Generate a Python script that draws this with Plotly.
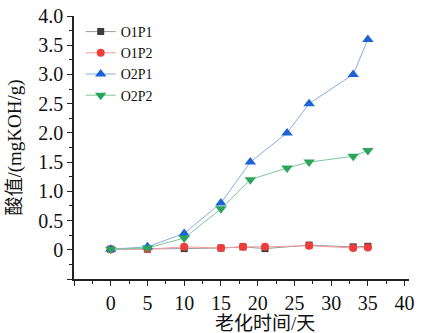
import plotly.graph_objects as go

# Aging days for each oil/paper group
days_o1 = [0, 5, 10, 15, 18, 21, 27, 33, 35]
days_o2 = [0, 5, 10, 15, 19, 24, 27, 33, 35]

# Acid value (mgKOH/g)
o1p1 = [0.01, 0.01, 0.02, 0.03, 0.05, 0.02, 0.08, 0.05, 0.06]
o1p2 = [0.01, 0.01, 0.05, 0.03, 0.05, 0.05, 0.07, 0.03, 0.04]
o2p1 = [0.01, 0.05, 0.28, 0.80, 1.50, 2.00, 2.50, 3.00, 3.60]
o2p2 = [0.01, 0.03, 0.20, 0.70, 1.20, 1.40, 1.50, 1.60, 1.70]

x_ticks = [-5, 0, 5, 10, 15, 20, 25, 30, 35, 40]
x_labels = ["", "0", "5", "10", "15", "20", "25", "30", "35", "40"]
y_ticks = [-0.5, 0, 0.5, 1.0, 1.5, 2.0, 2.5, 3.0, 3.5, 4.0]
y_labels = ["", "0", "0.5", "1.0", "1.5", "2.0", "2.5", "3.0", "3.5", "4.0"]

series = [
    ("O1P1", days_o1, o1p1, "#9a9a9a", "#3c3c3c", "square", 7),
    ("O1P2", days_o1, o1p2, "#f49a9a", "#f23b3b", "circle", 8),
    ("O2P1", days_o2, o2p1, "#86aee0", "#1c64d6", "triangle-up", 10),
    ("O2P2", days_o2, o2p2, "#7cc79a", "#2ba55c", "triangle-down", 10),
]

fig = go.Figure()
for name, xs, ys, lc, mc, sym, sz in series:
    fig.add_trace(go.Scatter(
        x=xs, y=ys, name=name, mode="lines+markers",
        line=dict(color=lc, width=1),
        marker=dict(color=mc, symbol=sym, size=sz, line=dict(width=0)),
    ))

serif = "Liberation Serif, Times New Roman, Noto Sans CJK SC, serif"

fig.update_layout(
    width=425, height=333,
    margin=dict(l=74, r=16, t=16, b=54),
    paper_bgcolor="white", plot_bgcolor="white",
    font=dict(family=serif, color="#111111", size=20),
    legend=dict(
        x=0.02, y=1.0, xanchor="left", yanchor="top",
        bgcolor="rgba(0,0,0,0)", font=dict(size=14, family=serif),
        tracegroupgap=0, itemwidth=30,
    ),
    xaxis=dict(
        range=[-5, 40.6], tickmode="array", tickvals=x_ticks, ticktext=x_labels,
        showgrid=False, zeroline=False, showline=True, linecolor="#222", linewidth=1.5,
        ticks="outside", ticklen=5, tickwidth=1.2, tickcolor="#222",
        minor=dict(tick0=0, dtick=2.5, ticks="outside", ticklen=3, tickcolor="#222"),
        tickfont=dict(size=20), automargin=False, ticklabelstandoff=0,
    ),
    yaxis=dict(
        range=[-0.5, 4.0], tickmode="array", tickvals=y_ticks, ticktext=y_labels,
        showgrid=False, zeroline=False, showline=True, linecolor="#222", linewidth=1.5,
        ticks="outside", ticklen=5, tickwidth=1.2, tickcolor="#222",
        minor=dict(tick0=0, dtick=0.25, ticks="outside", ticklen=3, tickcolor="#222"),
        title=dict(text="酸值/(mgKOH/g)", font=dict(size=19, family=serif), standoff=12),
        tickfont=dict(size=20), automargin=False,
    ),
    annotations=[dict(
        text="老化时间/天", xref="paper", yref="paper", x=0.57, y=-0.168,
        xanchor="center", yanchor="middle", showarrow=False,
        font=dict(size=19, family=serif),
    )],
)

fig.write_html("out.html")
